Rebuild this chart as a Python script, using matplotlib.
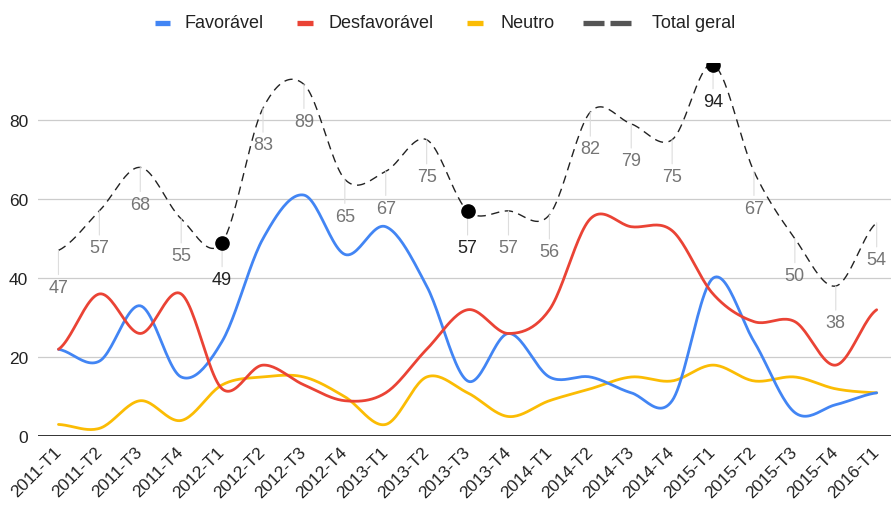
import numpy as np
import matplotlib
matplotlib.use('Agg')
import matplotlib.pyplot as plt
import matplotlib.transforms as mtransforms
from matplotlib.lines import Line2D

plt.rcParams['font.family'] = ['Liberation Sans', 'DejaVu Sans']

# quarters
quarters = ['2011-T1', '2011-T2', '2011-T3', '2011-T4',
            '2012-T1', '2012-T2', '2012-T3', '2012-T4',
            '2013-T1', '2013-T2', '2013-T3', '2013-T4',
            '2014-T1', '2014-T2', '2014-T3', '2014-T4',
            '2015-T1', '2015-T2', '2015-T3', '2015-T4',
            '2016-T1']

favoravel = [22, 19, 33, 15, 24, 50, 61, 46, 53, 38, 14, 26,
             15, 15, 11, 9, 40, 24, 6, 8, 11]
desfavoravel = [22, 36, 26, 36, 12, 18, 13, 9, 11, 22, 32, 26,
                32, 55, 53, 52, 36, 29, 29, 18, 32]
neutro = [3, 2, 9, 4, 13, 15, 15, 10, 3, 15, 11, 5,
          9, 12, 15, 14, 18, 14, 15, 12, 11]
total = [47, 57, 68, 55, 49, 83, 89, 65, 67, 75, 57, 57,
         56, 82, 79, 75, 94, 67, 50, 38, 54]

# points highlighted with a black dot
highlight = ['2012-T1', '2013-T3', '2015-T1']

BLUE = '#4285F4'
RED = '#EA4335'
YELLOW = '#FBBC04'


# catmull-rom curve through the points (like curveType 'function')
def smooth(y, n=24):
    y = np.asarray(y, dtype=float)
    p = np.concatenate([[y[0]], y, [y[-1]]])
    xs, ys = [], []
    for i in range(len(y) - 1):
        p0, p1, p2, p3 = p[i], p[i + 1], p[i + 2], p[i + 3]
        t = np.linspace(0, 1, n, endpoint=False)
        m1 = (p2 - p0) / 2
        m2 = (p3 - p1) / 2
        h00 = 2 * t**3 - 3 * t**2 + 1
        h10 = t**3 - 2 * t**2 + t
        h01 = -2 * t**3 + 3 * t**2
        h11 = t**3 - t**2
        xs.append(i + t)
        ys.append(h00 * p1 + h10 * m1 + h01 * p2 + h11 * m2)
    xs.append([len(y) - 1])
    ys.append([y[-1]])
    return np.concatenate(xs), np.concatenate(ys)


fig = plt.figure(figsize=(8.91, 5.06), dpi=100)
ax = fig.add_axes([38 / 891, 1 - 437.3 / 506, 1 - 38 / 891, (437.3 - 64) / 506])

x = np.arange(len(quarters))

ax.yaxis.grid(True, color='#cccccc', lw=0.9)
ax.set_axisbelow(True)
ax.axhline(0, color='#333333', lw=1.4, zorder=2)

for vals, col in [(neutro, YELLOW), (favoravel, BLUE), (desfavoravel, RED)]:
    sx, sy = smooth(vals)
    ax.plot(sx, sy, color=col, lw=2.0, zorder=3, solid_capstyle='round')

sx, sy = smooth(total)
ax.plot(sx, sy, color='#222222', lw=1.0, dashes=(6, 4), zorder=4)

# data labels of the total line
for i, v in enumerate(total):
    hl = quarters[i] in highlight
    ax.annotate(str(v), xy=(i, v), xytext=(0, -26.5), textcoords='offset points',
                ha='center', va='center', fontsize=13,
                color='#222222' if hl else '#757575', zorder=5,
                arrowprops=dict(arrowstyle='-', color='#dddddd', lw=0.8,
                                shrinkA=1, shrinkB=0))
    if hl:
        ax.plot(i, v, 'o', color='black', ms=9.5, zorder=6)

ax.set_xlim(-0.5, 20.35)
ax.set_ylim(0, 94.4)
ax.set_yticks([0, 20, 40, 60, 80])
ax.set_xticks(x)
ax.set_xticklabels(quarters, rotation=45, ha='right', va='center',
                   rotation_mode='anchor', fontsize=12.5, color='#222222')
shift = mtransforms.ScaledTranslation(6 / 100, 0, fig.dpi_scale_trans)
for lab in ax.get_xticklabels():
    lab.set_transform(lab.get_transform() + shift)
ax.tick_params(axis='x', length=0, pad=9)
ax.tick_params(axis='y', length=0, pad=7, labelsize=12.5, labelcolor='#222222')
for s in ax.spines.values():
    s.set_visible(False)

# legend drawn by hand (handles have different lengths)
W, H = 891, 506
ly = 1 - 24 / H


def handle(x0, x1, col):
    fig.add_artist(Line2D([x0 / W, x1 / W], [ly, ly], color=col, lw=3.8,
                          solid_capstyle='butt', transform=fig.transFigure))


handle(155, 170, BLUE)
fig.text(184 / W, ly, 'Favorável', fontsize=13, color='#222222', va='center')
handle(297, 313, RED)
fig.text(329 / W, ly, 'Desfavorável', fontsize=13, color='#222222', va='center')
handle(467, 483, YELLOW)
fig.text(500 / W, ly, 'Neutro', fontsize=13, color='#222222', va='center')
handle(583, 604, '#555555')
handle(610, 631, '#555555')
fig.text(652 / W, ly, 'Total geral', fontsize=13, color='#222222', va='center')

fig.savefig('out.png', dpi=100)
